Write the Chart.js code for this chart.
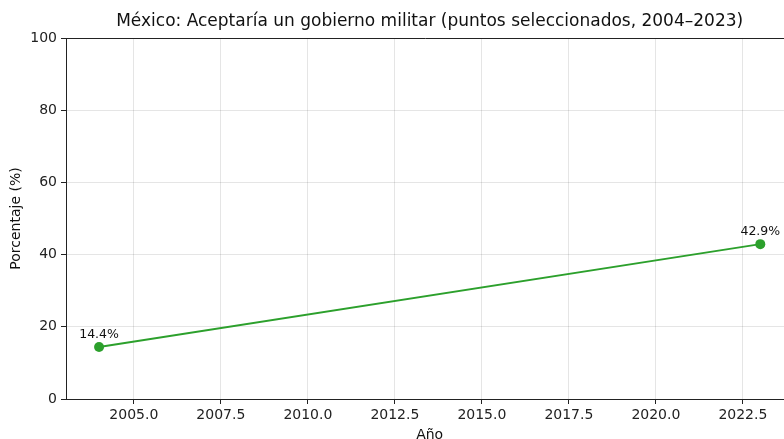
<!DOCTYPE html>
<html>
<head>
<meta charset="utf-8">
<script src="https://cdn.jsdelivr.net/npm/chart.js@4"></script>
<style>
  html, body { margin: 0; padding: 0; overflow: hidden; background: #fff; }
  #wrap { width: 784px; height: 439px; overflow: hidden; }
  canvas { display: block; }
</style>
</head>
<body>
<div id="wrap">
<canvas id="chart" width="790" height="439" style="width:790px;height:439px"></canvas>
</div>
<script>
// datos
const years = [2004, 2023];
const values = [14.4, 42.9];
const xTicks = [2005, 2007.5, 2010, 2012.5, 2015, 2017.5, 2020, 2022.5];
const yTicks = [0, 20, 40, 60, 80, 100];

const titulo = 'México: Aceptaría un gobierno militar (puntos seleccionados, 2004–2023)';
const FONT = '"DejaVu Sans", sans-serif';
const VERDE = '#2ca02c';
// el eje original termina en 2023.95, fuera de la imagen recortada
const X_FIN_REAL = 2023.95;

// título, etiquetas de ejes, borde superior y etiquetas de puntos
const textos = {
  id: 'textos',
  afterDraw(chart) {
    const { ctx, chartArea } = chart;
    const xs = chart.scales.x;
    const centro = (chartArea.left + xs.getPixelForValue(X_FIN_REAL)) / 2;
    ctx.save();
    ctx.fillStyle = '#111';
    ctx.textAlign = 'center';
    ctx.textBaseline = 'middle';
    ctx.font = '17px ' + FONT;
    ctx.fillText(titulo, centro, 22);

    ctx.font = '14px ' + FONT;
    ctx.fillText('Año', centro, 435);
    ctx.save();
    ctx.translate(16, (chartArea.top + chartArea.bottom) / 2);
    ctx.rotate(-Math.PI / 2);
    ctx.fillText('Porcentaje (%)', 0, 0);
    ctx.restore();

    // borde superior
    ctx.strokeStyle = '#222';
    ctx.lineWidth = 1;
    ctx.beginPath();
    ctx.moveTo(chartArea.left, chartArea.top + 0.5);
    ctx.lineTo(chartArea.right, chartArea.top + 0.5);
    ctx.stroke();

    // etiquetas de valores
    ctx.font = '12.5px ' + FONT;
    const meta = chart.getDatasetMeta(0);
    meta.data.forEach((pt, i) => {
      ctx.fillText(values[i].toFixed(1) + '%', pt.x, pt.y - 12);
    });
    ctx.restore();
  }
};

new Chart(document.getElementById('chart'), {
  type: 'line',
  data: {
    datasets: [{
      data: years.map((y, i) => ({ x: y, y: values[i] })),
      borderColor: VERDE,
      backgroundColor: VERDE,
      borderWidth: 2,
      pointRadius: 5,
      pointHoverRadius: 5,
      pointBorderWidth: 0,
      tension: 0,
      clip: false
    }]
  },
  options: {
    responsive: false,
    animation: false,
    layout: { padding: { top: 38, right: 0, left: 0, bottom: 0 } },
    plugins: {
      legend: { display: false },
      tooltip: { enabled: false }
    },
    scales: {
      x: {
        type: 'linear',
        min: 2003.05,
        max: 2023.71,
        afterBuildTicks: (axis) => { axis.ticks = xTicks.map(v => ({ value: v })); },
        afterFit: (scale) => { scale.height = 40; },
        ticks: {
          callback: (v) => v.toFixed(1),
          color: '#222',
          font: { family: FONT, size: 14 },
          padding: 3,
          maxRotation: 0,
          autoSkip: false
        },
        grid: { color: 'rgba(0,0,0,0.1)', tickColor: '#222', tickLength: 5 },
        border: { color: '#222', width: 1 }
      },
      y: {
        min: 0,
        max: 100,
        afterBuildTicks: (axis) => { axis.ticks = yTicks.map(v => ({ value: v })); },
        afterFit: (scale) => { scale.width = 66; },
        ticks: {
          color: '#222',
          font: { family: FONT, size: 14 },
          padding: 4
        },
        grid: { color: 'rgba(0,0,0,0.1)', tickColor: '#222', tickLength: 5 },
        border: { color: '#222', width: 1 }
      }
    }
  },
  plugins: [textos]
});
</script>
</body>
</html>
